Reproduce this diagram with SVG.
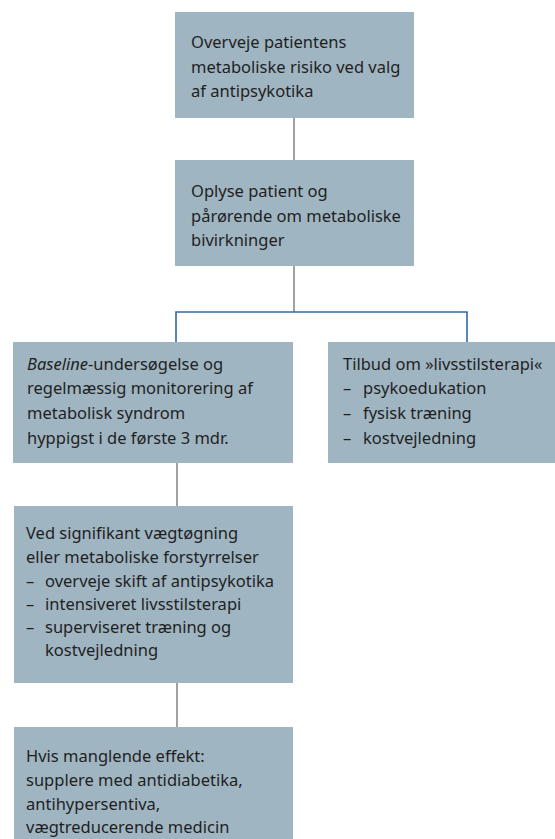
<svg xmlns="http://www.w3.org/2000/svg" width="555" height="839" viewBox="0 0 555 839">
<style>
.box{fill:#9fb5c2}
.t{font-family:"Noto Sans","Liberation Sans",sans-serif;font-size:16.5px;fill:#1f1f1f}
.gray{stroke:#8a8a8a;stroke-width:1.6;fill:none}
.blue{stroke:#2f69a6;stroke-width:1.6;fill:none}
</style>
<rect width="555" height="839" fill="#fff"/>
<g id="connectors">
<line class="gray" x1="294" y1="118" x2="294" y2="160"/>
<line class="gray" x1="294" y1="266" x2="294" y2="312"/>
<polyline class="blue" points="176,342 176,312 467,312 467,342"/>
<line class="gray" x1="177" y1="463" x2="177" y2="506"/>
<line class="gray" x1="177" y1="683" x2="177" y2="727"/>
</g>
<g id="n1">
<rect class="box" x="175" y="12" width="239" height="106"/>
<text class="t"><tspan x="191" y="48">Overveje patientens</tspan><tspan x="191" y="73">metaboliske risiko ved valg</tspan><tspan x="191" y="97">af antipsykotika</tspan></text>
</g>
<g id="n2">
<rect class="box" x="175" y="160" width="239" height="106"/>
<text class="t"><tspan x="191" y="197">Oplyse patient og</tspan><tspan x="191" y="222">pårørende om metaboliske</tspan><tspan x="191" y="246">bivirkninger</tspan></text>
</g>
<g id="n3">
<rect class="box" x="13" y="342" width="280" height="121"/>
<text class="t"><tspan x="27" y="370"><tspan font-style="italic">Baseline</tspan>-undersøgelse og</tspan><tspan x="27" y="394">regelmæssig monitorering af</tspan><tspan x="27" y="419">metabolisk syndrom</tspan><tspan x="27" y="444">hyppigst i de første 3 mdr.</tspan></text>
</g>
<g id="n4">
<rect class="box" x="328" y="342" width="227" height="121"/>
<text class="t"><tspan x="343" y="370">Tilbud om »livsstilsterapi«</tspan><tspan x="343" y="394">–</tspan><tspan x="363" y="394">psykoedukation</tspan><tspan x="343" y="419">–</tspan><tspan x="363" y="419">fysisk træning</tspan><tspan x="343" y="444">–</tspan><tspan x="363" y="444">kostvejledning</tspan></text>
</g>
<g id="n5">
<rect class="box" x="14" y="506" width="279" height="177"/>
<text class="t"><tspan x="26" y="539">Ved signifikant vægtøgning</tspan><tspan x="26" y="563">eller metaboliske forstyrrelser</tspan><tspan x="26" y="587">–</tspan><tspan x="45" y="587">overveje skift af antipsykotika</tspan><tspan x="26" y="610">–</tspan><tspan x="45" y="610">intensiveret livsstilsterapi</tspan><tspan x="26" y="633">–</tspan><tspan x="45" y="633">superviseret træning og</tspan><tspan x="45" y="656">kostvejledning</tspan></text>
</g>
<g id="n6">
<rect class="box" x="14" y="727" width="279" height="112"/>
<text class="t"><tspan x="26" y="762">Hvis manglende effekt:</tspan><tspan x="26" y="786">supplere med antidiabetika,</tspan><tspan x="26" y="810">antihypersentiva,</tspan><tspan x="26" y="833">vægtreducerende medicin</tspan></text>
</g>
</svg>
